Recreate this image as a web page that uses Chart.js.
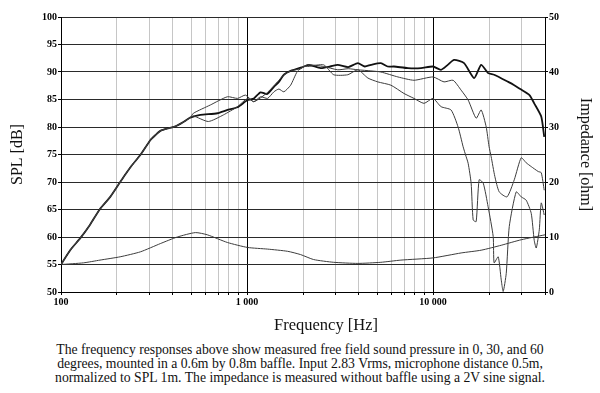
<!DOCTYPE html>
<html>
<head>
<meta charset="utf-8">
<script src="https://cdn.jsdelivr.net/npm/chart.js@4.4.1/dist/chart.umd.min.js"></script>
<style>
  body { margin: 0; background: #fff; width: 600px; height: 393px; overflow: hidden; position: relative; font-family: "Liberation Serif", serif; }
  #wrap { position: absolute; left: 0; top: 0; width: 600px; height: 337px; }
  #xtitle { position: absolute; left: 226px; top: 314px; width: 200px; text-align: center; font-size: 16.5px; line-height: 22px; color: #111; }
  #note { position: absolute; left: 33px; top: 343px; width: 534px; text-align: center; font-size: 13.7px; line-height: 14.2px; color: #111; }
</style>
</head>
<body>
<div id="wrap"><canvas id="c"></canvas></div>
<div id="xtitle">Frequency [Hz]</div>
<div id="note">The frequency responses above show measured free field sound pressure in 0, 30, and 60<br>degrees, mounted in a 0.6m by 0.8m baffle. Input 2.83 Vrms, microphone distance 0.5m,<br>normalized to SPL 1m. The impedance is measured without baffle using a 2V sine signal.</div>
<script>
// shared low end, the three SPL curves coincide below ~500 Hz
const lowFreq = [100, 112, 127, 143, 162, 184, 208, 221, 240, 267, 302, 321, 342, 380, 412, 455, 495];
const lowSpl  = [55, 57.6, 59.8, 62.2, 65.1, 67.3, 70, 71.3, 73.0, 74.9, 77.6, 78.5, 79.3, 79.8, 80.1, 80.9, 81.7];

// 0 degrees
const freqOn = [561, 693, 785, 889, 1007, 1088, 1182, 1285, 1395, 1484, 1578, 1716, 2025, 2154, 2489, 2800, 3075, 3500, 3945, 4300, 4636, 5244, 5700, 6165, 7330, 8615, 10000, 11040, 12000, 12980, 14690, 16640, 18150, 19780, 21310, 25370, 27340, 29790, 33000, 35000, 38180, 39620];
const splOn  = [82.2, 82.5, 83.1, 83.6, 84.9, 85.2, 86.3, 86.0, 87.3, 88.2, 89.5, 90.2, 91.0, 91.3, 90.7, 91.0, 91.3, 90.9, 91.6, 91.0, 91.3, 91.6, 91.0, 91.0, 90.7, 90.7, 91.0, 90.4, 91.3, 92.2, 91.6, 88.9, 91.3, 89.8, 89.5, 88.2, 87.6, 86.8, 85.8, 84.3, 81.9, 78.2];

// 30 degrees
const freq30 = [515, 635, 785, 889, 982, 1084, 1182, 1290, 1395, 1484, 1578, 1716, 1942, 2118, 2583, 3075, 3500, 3945, 4636, 5244, 6476, 7900, 10000, 11460, 12820, 14160, 15450, 17060, 18150, 19320, 20000, 20540, 21500, 22700, 25000, 27340, 29790, 31680, 33730, 36800, 38180, 39620];
const spl30  = [82.5, 84.0, 85.5, 85.2, 85.8, 84.6, 85.3, 86.3, 87.5, 88.5, 89.5, 90.2, 90.6, 91.3, 91.0, 90.4, 90.6, 90.4, 90.2, 90.0, 89.1, 88.5, 89.1, 88.2, 88.5, 86.7, 84.9, 81.6, 83.1, 80.0, 76.5, 74.6, 71.0, 68.2, 67.3, 70.4, 74.4, 73.5, 72.8, 71.9, 71.7, 68.5];

// 60 degrees
const freq60 = [515, 620, 747, 889, 1007, 1088, 1182, 1290, 1395, 1484, 1578, 1716, 1865, 2025, 2118, 2583, 2925, 3483, 3945, 4467, 5050, 5940, 6978, 7900, 8940, 10000, 11040, 12500, 13640, 14520, 15070, 15450, 16030, 16440, 17060, 17700, 18620, 19780, 21060, 21310, 22410, 23270, 23840, 24760, 25700, 28010, 29790, 31680, 33730, 35000, 35890, 37270, 38180, 39620];
const spl60  = [82.0, 81.0, 82.2, 83.7, 85.2, 84.6, 85.5, 85.2, 86.4, 86.9, 86.4, 87.6, 90.1, 91.0, 91.0, 91.3, 89.5, 89.5, 90.4, 88.9, 88.2, 87.6, 86.1, 85.2, 84.3, 85.2, 83.7, 83.1, 80.0, 76.4, 74.6, 73.4, 69.8, 63.1, 62.8, 70.4, 69.8, 65.5, 60.1, 55.3, 56.4, 52.2, 50.1, 53.4, 61.9, 68.2, 67.3, 66.7, 64.3, 59.4, 58.0, 61.3, 66.2, 64.0];

// impedance, right axis
const freqImp = [100, 132, 162, 208, 267, 342, 422, 528, 612, 785, 1007, 1290, 1653, 1942, 2281, 2925, 3945, 5244, 6720, 10000, 14160, 18150, 23270, 29790, 40000];
const impOhm  = [5.0, 5.3, 5.8, 6.4, 7.3, 8.8, 10.0, 10.8, 10.4, 9.0, 8.1, 7.8, 7.4, 6.8, 5.9, 5.4, 5.2, 5.4, 5.8, 6.2, 7.1, 7.6, 8.5, 9.5, 10.4];

const xTicks = [100, 200, 300, 400, 500, 600, 700, 800, 900, 1000, 2000, 3000, 4000, 5000, 6000, 7000, 8000, 9000, 10000, 20000, 30000, 40000];
const xLabels = { 100: "100", 1000: "1 000", 10000: "10 000" };

const pts = (xs, ys) => xs.map((x, i) => ({ x: x, y: ys[i] }));
const isDecade = v => v === 100 || v === 1000 || v === 10000;
const tickFont = { family: "Liberation Serif", size: 10, weight: "bold" };
const titleFont = { family: "Liberation Serif", size: 16 };

new Chart(document.getElementById("c"), {
    type: "line",
    data: {
        datasets: [
            { data: pts(lowFreq.concat(freq60), lowSpl.concat(spl60)), borderColor: "#3c3c3c", borderWidth: 1 },
            { data: pts(lowFreq.concat(freq30), lowSpl.concat(spl30)), borderColor: "#3c3c3c", borderWidth: 1 },
            { data: pts(lowFreq.concat(freqOn), lowSpl.concat(splOn)), borderColor: "#111", borderWidth: 1.8 },
            { data: pts(freqImp, impOhm), borderColor: "#3c3c3c", borderWidth: 1, yAxisID: "y2" }
        ]
    },
    options: {
        responsive: true,
        maintainAspectRatio: false,
        animation: false,
        layout: { padding: { top: 17, left: 0, right: 0, bottom: 0 } },
        elements: { point: { radius: 0 }, line: { tension: 0.2 } },
        plugins: { legend: { display: false }, tooltip: { enabled: false } },
        scales: {
            x: {
                type: "logarithmic", min: 100, max: 40000,
                afterBuildTicks: s => { s.ticks = xTicks.map(v => ({ value: v })); },
                afterFit: s => { s.height = 45; },
                ticks: { autoSkip: false, maxRotation: 0, color: "#000", font: tickFont, padding: 1,
                         callback: v => xLabels[v] || "" },
                grid: { color: c => isDecade(c.tick && c.tick.value) ? "#000" : "#c6c6c6",
                        tickColor: "#000", tickLength: 3 },
                border: { color: "#000" }
            },
            y: {
                min: 50, max: 100,
                afterFit: s => { s.width = 61; },
                ticks: { stepSize: 5, color: "#000", font: tickFont, padding: 1 },
                grid: { color: "#2a2a2a", tickColor: "#000", tickLength: 3 },
                border: { color: "#000" },
                title: { display: true, text: "SPL [dB]", color: "#111", font: titleFont, padding: { top: 8, bottom: 0 } }
            },
            y2: {
                position: "right", min: 0, max: 50,
                afterFit: s => { s.width = 55; },
                ticks: { stepSize: 10, color: "#000", font: tickFont, padding: 1 },
                grid: { drawOnChartArea: false, tickColor: "#000", tickLength: 3 },
                border: { color: "#000" },
                title: { display: true, text: "Impedance [ohm]", color: "#111", font: titleFont, padding: { top: 5, bottom: 0 } }
            }
        }
    }
});
</script>
</body>
</html>
